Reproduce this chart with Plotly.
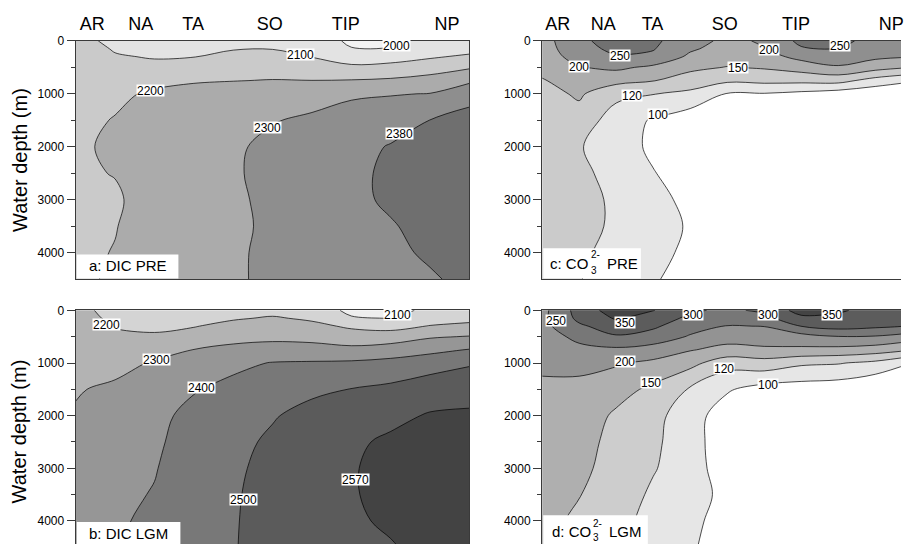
import numpy as np
import plotly.graph_objects as go

# ---------------- data ----------------
stations = ["AR", "NA", "TA", "SO", "TIP", "NP"]
station_x = [4.2, 16.5, 29.8, 49.3, 68.6, 94.3]
section_x = [0, 10, 20, 30, 40, 50, 60, 70, 80, 90, 100]
depths = [0, 150, 300, 500, 750, 1000, 1500, 2000, 2500, 3000, 3500, 4000, 4500]
depth_ticks = [0, 1000, 2000, 3000, 4000]
depth_minor = [500, 1500, 2500, 3500]

# rows = depths, columns = section_x
dic_pre = [
    [2140, 2070, 2060, 2040, 2060, 2070, 2060, 1980, 1982, 2030, 2040],
    [2160, 2090, 2075, 2060, 2095, 2098, 2080, 2005, 2005, 2060, 2070],
    [2170, 2110, 2092, 2098, 2125, 2125, 2098, 2060, 2065, 2090, 2115],
    [2175, 2150, 2130, 2140, 2160, 2165, 2140, 2115, 2125, 2150, 2190],
    [2178, 2175, 2175, 2192, 2198, 2203, 2201, 2205, 2215, 2240, 2280],
    [2178, 2180, 2215, 2230, 2240, 2250, 2255, 2290, 2295, 2302, 2360],
    [2174, 2205, 2250, 2260, 2275, 2294, 2315, 2325, 2345, 2381, 2400],
    [2186, 2215, 2255, 2270, 2285, 2320, 2340, 2355, 2385, 2400, 2410],
    [2180, 2205, 2260, 2275, 2288, 2325, 2345, 2365, 2392, 2405, 2412],
    [2178, 2182, 2262, 2275, 2291, 2310, 2345, 2365, 2390, 2405, 2412],
    [2180, 2195, 2262, 2275, 2292, 2306, 2345, 2360, 2375, 2400, 2410],
    [2174, 2205, 2260, 2275, 2290, 2312, 2345, 2355, 2365, 2390, 2405],
    [2188, 2208, 2258, 2272, 2288, 2315, 2345, 2350, 2360, 2372, 2398],
]
dic_lgm = [
    [2245, 2150, 2130, 2110, 2150, 2170, 2150, 2080, 2070, 2120, 2130],
    [2248, 2175, 2160, 2150, 2190, 2210, 2185, 2108, 2098, 2150, 2170],
    [2252, 2196, 2185, 2195, 2230, 2245, 2225, 2185, 2165, 2205, 2225],
    [2258, 2215, 2210, 2240, 2275, 2285, 2275, 2245, 2250, 2290, 2305],
    [2265, 2240, 2260, 2302, 2320, 2325, 2330, 2325, 2345, 2375, 2405],
    [2275, 2265, 2310, 2340, 2375, 2405, 2410, 2415, 2430, 2455, 2490],
    [2292, 2320, 2345, 2392, 2430, 2455, 2475, 2502, 2515, 2540, 2545],
    [2310, 2345, 2370, 2432, 2450, 2490, 2530, 2545, 2555, 2575, 2580],
    [2320, 2360, 2385, 2440, 2465, 2515, 2545, 2560, 2580, 2595, 2600],
    [2330, 2370, 2395, 2450, 2480, 2525, 2550, 2565, 2590, 2600, 2605],
    [2340, 2380, 2405, 2455, 2488, 2530, 2555, 2565, 2588, 2600, 2605],
    [2350, 2390, 2415, 2460, 2492, 2530, 2555, 2560, 2580, 2595, 2600],
    [2360, 2395, 2420, 2460, 2494, 2530, 2555, 2555, 2565, 2590, 2595],
]
co3_pre = [
    [180, 240, 270, 258, 225, 185, 208, 262, 262, 235, 230],
    [178, 232, 262, 253, 207, 180, 198, 245, 249, 225, 218],
    [174, 220, 245, 240, 190, 170, 180, 215, 225, 210, 202],
    [165, 198, 210, 190, 160, 149, 155, 172, 195, 170, 151],
    [148, 172, 165, 152, 138, 125, 128, 128, 130, 112, 102],
    [140, 157, 128, 121, 115, 99, 99, 95, 90, 85, 82],
    [138, 138, 110, 98, 88, 85, 85, 82, 80, 80, 80],
    [136, 122, 110, 96, 88, 80, 80, 80, 80, 80, 80],
    [135, 128, 112, 101, 90, 80, 80, 80, 80, 80, 80],
    [135, 135, 115, 106, 95, 80, 80, 80, 80, 80, 80],
    [135, 135, 115, 108, 98, 80, 80, 80, 80, 80, 80],
    [135, 130, 108, 107, 95, 80, 80, 80, 80, 80, 80],
    [135, 122, 105, 102, 92, 80, 80, 80, 80, 80, 80],
]
co3_lgm = [
    [235, 320, 375, 352, 308, 290, 310, 370, 358, 330, 320],
    [238, 312, 355, 330, 288, 270, 285, 338, 335, 318, 312],
    [235, 292, 325, 308, 270, 248, 251, 301, 320, 310, 297],
    [228, 262, 295, 280, 245, 220, 228, 230, 248, 246, 225],
    [220, 238, 240, 228, 203, 185, 190, 190, 185, 175, 152],
    [210, 210, 205, 190, 165, 132, 138, 125, 122, 115, 99],
    [190, 190, 170, 143, 118, 102, 92, 90, 88, 80, 82],
    [180, 180, 145, 130, 108, 90, 85, 85, 85, 80, 80],
    [178, 170, 140, 126, 108, 88, 85, 85, 85, 80, 80],
    [175, 162, 138, 122, 110, 88, 85, 85, 85, 80, 80],
    [175, 152, 135, 117, 109, 94, 85, 85, 85, 80, 80],
    [172, 142, 132, 112, 106, 90, 85, 85, 85, 80, 80],
    [170, 138, 128, 110, 103, 88, 85, 85, 85, 80, 80],
]

dic_pre_levels = [2000, 2100, 2200, 2300, 2380]
dic_lgm_levels = [2100, 2200, 2300, 2400, 2500, 2570]
co3_pre_levels = [100, 120, 150, 200, 250]
co3_lgm_levels = [100, 120, 150, 200, 250, 300, 350]

# contour labels: (text, section position, depth)
dic_pre_labels = [("2000", 81.6, 88), ("2100", 57.1, 262), ("2200", 18.9, 929),
                  ("2300", 48.7, 1633), ("2380", 82.3, 1757)]
dic_lgm_labels = [("2100", 81.8, 82), ("2200", 7.9, 270), ("2300", 20.6, 925),
                  ("2400", 32.0, 1474), ("2500", 42.6, 3590), ("2570", 71.1, 3221)]
co3_pre_labels = [("250", 20.9, 280), ("200", 10.0, 480), ("150", 52.8, 512),
                  ("200", 61.3, 157), ("250", 80.6, 93), ("120", 24.3, 1028),
                  ("100", 31.2, 1383)]
co3_lgm_labels = [("250", 3.6, 195), ("350", 22.3, 225), ("300", 40.7, 82),
                  ("300", 61.1, 82), ("350", 78.4, 82), ("200", 22.3, 974),
                  ("150", 29.3, 1374), ("120", 49.0, 1099), ("100", 61.1, 1404)]

# panel titles: main text, subscript, superscript, tail
panel_titles = [("a: DIC PRE", "", "", ""), ("b: DIC LGM", "", "", ""),
                ("c: CO", "3", "2-", "PRE"), ("d: CO", "3", "2-", "LGM")]

# ---------------- styling ----------------
dic_pre_fill = ["#f3f3f3", "#e3e3e3", "#cacaca", "#ababab", "#8e8e8e", "#6f6f6f"]
dic_lgm_fill = ["#eeeeee", "#d4d4d4", "#b3b3b3", "#969696", "#787878", "#5b5b5b", "#434343"]
co3_pre_fill = ["#ffffff", "#e6e6e6", "#cbcbcb", "#adadad", "#8f8f8f", "#717171"]
co3_lgm_fill = ["#ffffff", "#e6e6e6", "#cdcdcd", "#afafaf", "#939393", "#777777", "#5c5c5c", "#444444"]

FONT = "Liberation Sans, Arial, sans-serif"
W, H = 904, 544
LX0, LX1 = 76, 471          # left column plot area (px)
RX0, RX1 = 544, 904         # right column (cut at the window edge)
TOP_Y0, TOP_Y1 = 34.3, 275.7
BOT_Y0 = 307.3
R_RANGE = 360 / 371.3 * 100  # right panels are wider than the window
BOT_RANGE = 4437


def to_level_index(values, levels):
    """Monotone piecewise-linear map of values onto level numbers 1..n
    (linear extrapolation beyond the first/last level)."""
    z = np.asarray(values, dtype=float)
    n = len(levels)
    lo_step = levels[1] - levels[0]
    hi_step = levels[-1] - levels[-2]
    ext = [levels[0] - 100 * lo_step] + list(levels) + [levels[-1] + 100 * hi_step]
    idx = [1 - 100] + list(range(1, n + 1)) + [n + 100]
    return np.interp(z, ext, idx)


def contour(values, levels, fills, xa, ya):
    n = len(levels)
    cs = [[k / n, c] for k, c in enumerate(fills)]
    return go.Contour(
        x=section_x, y=depths, z=to_level_index(values, levels),
        contours=dict(start=1, end=n, size=1, coloring="fill", showlines=True),
        line=dict(color="black", width=0.7, smoothing=1.0),
        colorscale=cs, showscale=False, hoverinfo="skip",
        xaxis=xa, yaxis=ya,
    )


fig = go.Figure()
fig.add_trace(contour(dic_pre, dic_pre_levels, dic_pre_fill, "x", "y"))
fig.add_trace(contour(dic_lgm, dic_lgm_levels, dic_lgm_fill, "x2", "y2"))
fig.add_trace(contour(co3_pre, co3_pre_levels, co3_pre_fill, "x3", "y3"))
fig.add_trace(contour(co3_lgm, co3_lgm_levels, co3_lgm_fill, "x4", "y4"))

LINE = dict(showline=True, linecolor="#3a3a3a", linewidth=1.3, showgrid=False, zeroline=False)


def xaxis(dom, rng, anchor, labels, mirror):
    return dict(domain=dom, range=rng, anchor=anchor, side="top", ticks="",
                tickmode="array", tickvals=station_x, ticktext=stations,
                showticklabels=labels, tickfont=dict(size=18, color="black", family=FONT),
                ticklabelstandoff=3, ticklabeloverflow="allow", mirror=mirror, **LINE)


def yaxis(dom, rng, anchor, mirror):
    return dict(domain=dom, range=rng, anchor=anchor, tickmode="array",
                tickvals=depth_ticks, ticks="outside", ticklen=8, tickwidth=1,
                tickcolor="#3a3a3a", tickfont=dict(size=12, color="black", family=FONT),
                minor=dict(tickmode="array", tickvals=depth_minor, ticks="outside",
                           ticklen=4, tickwidth=1, tickcolor="#3a3a3a"),
                mirror=mirror, **LINE)


xl = [LX0 / W, LX1 / W]
xr = [RX0 / W, RX1 / W]
yt = [1 - TOP_Y1 / H, 1 - TOP_Y0 / H]
yb = [0, 1 - BOT_Y0 / H]

fig.update_layout(
    width=W, height=H, autosize=False,
    margin=dict(l=0, r=0, t=0, b=0),
    paper_bgcolor="white", plot_bgcolor="white",
    font=dict(family=FONT, color="black"),
    showlegend=False,
    xaxis=xaxis(xl, [0, 100], "y", True, True),
    yaxis=yaxis(yt, [4500, 0], "x", True),
    xaxis2=xaxis(xl, [0, 100], "y2", False, False),
    yaxis2=yaxis(yb, [BOT_RANGE, 0], "x2", True),
    xaxis3=xaxis(xr, [0, R_RANGE], "y3", True, True),
    yaxis3=yaxis(yt, [4500, 0], "x3", False),
    xaxis4=xaxis(xr, [0, R_RANGE], "y4", False, False),
    yaxis4=yaxis(yb, [BOT_RANGE, 0], "x4", False),
)

ann = []
for labels, xr_, yr_ in [(dic_pre_labels, "x", "y"), (dic_lgm_labels, "x2", "y2"),
                         (co3_pre_labels, "x3", "y3"), (co3_lgm_labels, "x4", "y4")]:
    for txt, sx, dz in labels:
        ann.append(dict(text=txt, x=sx, y=dz, xref=xr_, yref=yr_, showarrow=False,
                        xanchor="center", yanchor="middle",
                        font=dict(size=12, color="black", family=FONT),
                        bgcolor="white", borderpad=0, height=11))


def px_ann(text, x, y, size, anchor="left"):
    return dict(text=text, x=x / W, y=1 - y / H, xref="paper", yref="paper",
                xanchor=anchor, yanchor="middle", showarrow=False,
                font=dict(size=size, color="black", family=FONT))


# white boxes in the lower-left corner of each panel (px: x0, x1, top, bottom)
boxes = [(77, 179, 250.7, 275.0), (77, 181, 521.7, 544),
         (545, 643, 244.3, 275.0), (545, 650, 515.0, 544)]
shapes = [dict(type="rect", xref="paper", yref="paper", layer="above",
               x0=x0 / W, x1=x1 / W, y0=1 - yb_ / H, y1=1 - yt_ / H,
               fillcolor="white", line=dict(width=0))
          for x0, x1, yt_, yb_ in boxes]

# title text placement (px): main left, centre y, sub/sup left, sub y, sup y, tail left
title_pos = [(87, 262.3, 0, 0, 0, 0), (87.3, 533.8, 0, 0, 0, 0),
             (550, 259.5, 590.5, 266.5, 251.0, 606.7),
             (552, 531.7, 593.0, 537.8, 523.5, 609.0)]
for (main, sub, sup, tail), (mx, my, sx, suby, supy, tx) in zip(panel_titles, title_pos):
    ann.append(px_ann(main, mx, my, 15))
    if sub:
        ann.append(px_ann(sub, sx, suby, 10))
        ann.append(px_ann(sup, sx, supy, 10))
        ann.append(px_ann(tail, tx, my, 15))

for cy in [155, 430]:
    ann.append(dict(text="Water depth (m)", x=20 / W, y=1 - cy / H, xref="paper",
                    yref="paper", xanchor="center", yanchor="middle",
                    textangle=-90, showarrow=False,
                    font=dict(size=20, color="black", family=FONT)))

fig.update_layout(annotations=ann, shapes=shapes)

fig.write_html("out.html", config={"displayModeBar": False},
               post_script="document.body.style.margin='0';document.body.style.overflow='hidden';")
